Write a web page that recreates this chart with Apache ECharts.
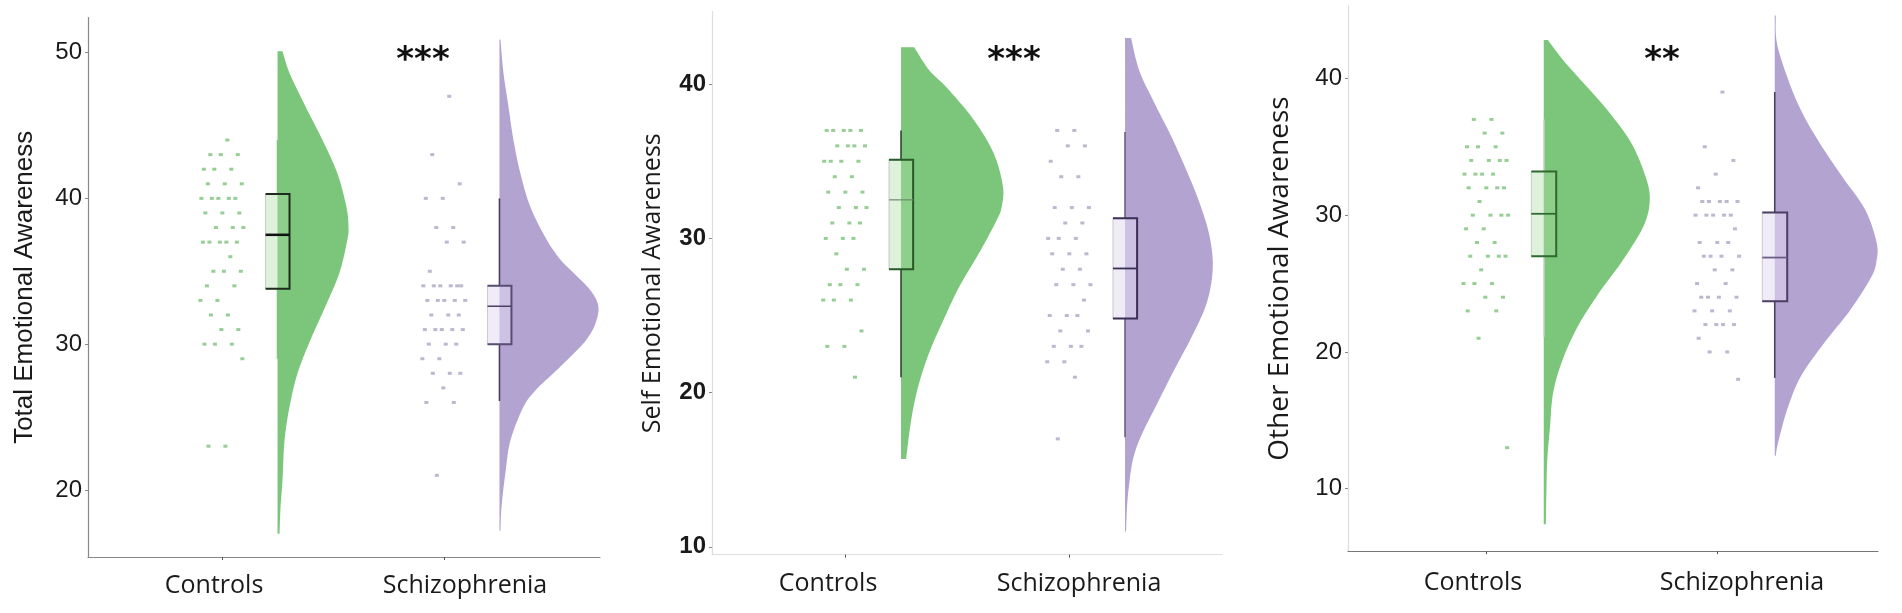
<!DOCTYPE html>
<html><head><meta charset="utf-8">
<script src="https://cdn.jsdelivr.net/npm/echarts@6/dist/echarts.min.js"></script>
<style>html,body{margin:0;padding:0;background:#fff}#c{width:1902px;height:613px}</style>
</head><body><div id="c"></div>
<script>
// ---------- data ----------
const groups = ['Controls', 'Schizophrenia'];
const yTitles = ['Total Emotional Awareness', 'Self Emotional Awareness', 'Other Emotional Awareness'];
const yTickValues = [[20, 30, 40, 50], [10, 20, 30, 40], [10, 20, 30, 40]];
const significance = ['***', '***', '**'];

// raw scores (jittered dots)
const totalControls = [44,43,43,43,42,42,42,41,41,41,40,40,40,40,40,39,39,39,38,38,38,37,37,37,37,37,36,35,35,35,34,34,33,33,32,32,31,31,30,30,30,29,23,23];
const totalSchizophrenia = [47,43,41,40,40,38,38,37,37,35,34,34,34,34,34,34,33,33,33,33,33,32,32,32,31,31,31,31,31,30,30,30,29,29,28,28,28,27,26,26,21];
const selfControls = [37,37,37,37,37,36,36,36,36,35,35,35,35,34,34,33,33,33,32,32,32,31,31,31,30,30,30,29,28,28,27,27,27,26,26,26,24,23,23,21];
const selfSchizophrenia = [37,37,36,36,35,34,34,32,32,32,31,31,30,30,30,29,29,29,28,28,27,27,27,26,25,25,25,24,24,23,23,23,22,22,21,17];
const otherControls = [37,37,36,36,35,35,35,34,34,34,34,33,33,33,33,32,32,32,32,31,30,30,30,30,29,29,28,28,27,27,27,27,26,25,25,25,24,24,23,23,21,13];
const otherSchizophrenia = [39,35,34,33,32,31,31,31,31,31,30,30,30,30,30,29,28,28,28,27,27,27,27,26,26,25,25,24,24,24,24,23,23,23,22,22,22,22,21,20,20,18];

// violin density profiles [score, relative density]
const totalControlsDensity = [[50.1,0.05],[48.6,0.12],[46.3,0.28],[44.0,0.45],[41.7,0.60],[39.4,0.69],[38.1,0.71],[37.2,0.70],[34.9,0.62],[32.6,0.48],[30.3,0.33],[28.0,0.20],[25.7,0.12],[23.4,0.07],[20.7,0.05],[18.8,0.03],[17.0,0.02]];
const totalSchizophreniaDensity = [[50.9,0.01],[48.6,0.04],[46.3,0.09],[44.0,0.14],[41.7,0.21],[39.4,0.31],[37.2,0.47],[35.8,0.61],[34.9,0.74],[33.7,0.91],[32.6,0.99],[31.4,0.96],[30.3,0.87],[29.2,0.72],[28.0,0.54],[26.9,0.37],[25.7,0.24],[23.4,0.11],[21.2,0.06],[18.8,0.02],[17.2,0.01]];
const selfControlsDensity = [[42.4,0.13],[40.9,0.28],[39.8,0.45],[37.7,0.72],[35.5,0.92],[33.4,1.01],[32.1,1.00],[31.2,0.95],[29.0,0.77],[26.9,0.58],[24.7,0.42],[22.6,0.28],[20.4,0.17],[18.2,0.10],[15.7,0.05]];
const selfSchizophreniaDensity = [[43.0,0.06],[40.9,0.14],[38.8,0.29],[36.6,0.46],[34.4,0.61],[32.3,0.74],[30.1,0.84],[28.0,0.87],[25.8,0.81],[23.6,0.66],[21.5,0.49],[19.3,0.32],[17.2,0.16],[15.7,0.08],[14.0,0.04],[12.6,0.02],[11.0,0.01]];
const otherControlsDensity = [[42.8,0.04],[41.4,0.18],[40.1,0.33],[37.7,0.61],[35.3,0.84],[32.8,0.98],[31.1,1.02],[29.2,0.96],[26.7,0.76],[24.3,0.53],[21.9,0.33],[19.4,0.18],[17.0,0.09],[14.5,0.06],[12.8,0.04],[11.4,0.03],[7.4,0.02]];
const otherSchizophreniaDensity = [[44.6,0.01],[42.6,0.02],[40.1,0.12],[37.7,0.25],[35.3,0.43],[32.8,0.65],[30.4,0.87],[28.0,0.98],[26.7,0.98],[25.5,0.93],[23.1,0.73],[20.6,0.47],[18.2,0.25],[15.8,0.12],[13.3,0.03],[12.4,0.01]];

// box stats [lower whisker, Q1, median, Q3, upper whisker]
const totalControlsBox = [29, 33.8, 37.5, 40.3, 44];
const totalSchizophreniaBox = [26.1, 30.0, 32.6, 34.0, 40.0];
const selfControlsBox = [21.0, 28.0, 32.5, 35.1, 37.0];
const selfSchizophreniaBox = [17.1, 24.8, 28.05, 31.3, 36.9];
const otherControlsBox = [21.1, 27.0, 30.1, 33.2, 37.0];
const otherSchizophreniaBox = [18.1, 23.7, 26.9, 30.2, 39.0];

// ---------- layout / style ----------
const GREEN = '#7BC67A', PURPLE = '#B3A3D0';
const VIOLIN_OFFSET = 0.25, VIOLIN_SCALE = 0.45, BOX_HALF = 0.054, JITTER = 0.1;

const panels = [
  { grid:{left:88, top:17.6, width:512, height:539.4}, x:[0.396, 2.703], y:[15.4, 52.4],
    axisColor:['#888','#888'], tickFont:{fontFamily:'Liberation Sans', fontSize:24, fontWeight:'normal'},
    nameFont:{fontFamily:'Liberation Sans', fontSize:26}, nameGap:50, labelMargin:16, labelShift:[-8, 21], sig:[423,61],
    ctrl:{dots:totalControls, dens:totalControlsDensity, box:totalControlsBox, whisker:GREEN, outline:'#1e2e1e', median:'#111', medW:2.5},
    schz:{dots:totalSchizophrenia, dens:totalSchizophreniaDensity, box:totalSchizophreniaBox, whisker:'#4b3f63', outline:'#5a4d75', median:'#4b3f63', medW:1.5} },
  { grid:{left:712, top:11.7, width:510, height:543}, x:[0.406, 2.683], y:[9.49, 44.7],
    axisColor:['#ddd','#ddd'], tickFont:{fontFamily:'Liberation Sans', fontSize:24, fontWeight:'bold'},
    nameFont:{fontFamily:'Open Sans', fontSize:25}, nameGap:47, labelMargin:17, labelShift:[-17, 10], sig:[1014,61],
    ctrl:{dots:selfControls, dens:selfControlsDensity, box:selfControlsBox, whisker:'#2d4a2d', outline:'#2a5a2a', median:'#6c8f6a', medW:1.2},
    schz:{dots:selfSchizophrenia, dens:selfSchizophreniaDensity, box:selfSchizophreniaBox, whisker:'#6a5d86', outline:'#3a2f55', median:'#3a2f55', medW:1.8} },
  { grid:{left:1348, top:5.9, width:530, height:545.3}, x:[0.4026, 2.697], y:[5.43, 45.3],
    axisColor:['#ddd','#777'], tickFont:{fontFamily:'Liberation Sans', fontSize:24, fontWeight:'normal'},
    nameFont:{fontFamily:'Open Sans', fontSize:28}, nameGap:54, labelMargin:19, labelShift:[-13, 25], sig:[1662,61],
    ctrl:{dots:otherControls, dens:otherControlsDensity, box:otherControlsBox, whisker:'#d4dcd4', outline:'#2f6a2f', median:'#2f6a2f', medW:1.8},
    schz:{dots:otherSchizophrenia, dens:otherSchizophreniaDensity, box:otherSchizophreniaBox, whisker:'#4b3f63', outline:'#4b3f63', median:'#6a5d86', medW:1.8} }
];

function catmullRom(pts, steps) {
  const out = [];
  for (let i = 0; i < pts.length - 1; i++) {
    const p0 = pts[Math.max(i - 1, 0)], p1 = pts[i], p2 = pts[i + 1], p3 = pts[Math.min(i + 2, pts.length - 1)];
    for (let s = 0; s < steps; s++) {
      const t = s / steps, t2 = t * t, t3 = t2 * t;
      const f = k => 0.5 * (2 * p1[k] + (-p0[k] + p2[k]) * t + (2 * p0[k] - 5 * p1[k] + 4 * p2[k] - p3[k]) * t2 + (-p0[k] + 3 * p1[k] - 3 * p2[k] + p3[k]) * t3);
      out.push([f(0), f(1)]);
    }
  }
  out.push(pts[pts.length - 1]);
  return out;
}

function violinSeries(gi, pos, profile, color) {
  return { type:'custom', xAxisIndex:gi, yAxisIndex:gi, silent:true, z:1, data:[[pos, profile[0][0]]],
    renderItem: (params, api) => {
      const base = pos + VIOLIN_OFFSET;
      const bx = api.coord([base, 0])[0];
      const pts = profile.map(([s, d]) => api.coord([base + d * VIOLIN_SCALE, s]));
      const curve = catmullRom(pts, 10).map(p => [Math.max(p[0], bx), p[1]]);
      const top = api.coord([base, profile[0][0]]);
      const bot = api.coord([base, profile[profile.length - 1][0]]);
      return { type:'polygon', shape:{ points:[top, ...curve, bot] }, style:{ fill:color } };
    } };
}

function boxSeries(gi, pos, g, fill) {
  return { type:'custom', xAxisIndex:gi, yAxisIndex:gi, silent:true, z:2, data:[[pos, g.box[2]]],
    renderItem: (params, api) => {
      const c = pos + VIOLIN_OFFSET;
      const [lo, q1, md, q3, hi] = g.box;
      const tl = api.coord([c - BOX_HALF, q3]), tr = api.coord([c + BOX_HALF, q3]);
      const bl = api.coord([c - BOX_HALF, q1]), br = api.coord([c + BOX_HALF, q1]);
      const ml = api.coord([c - BOX_HALF, md]), mr = api.coord([c + BOX_HALF, md]);
      const wt = api.coord([c, hi]), w3 = api.coord([c, q3]), w1 = api.coord([c, q1]), wb = api.coord([c, lo]);
      return { type:'group', children:[
        { type:'line', shape:{x1:wt[0], y1:wt[1], x2:w3[0], y2:w3[1]}, style:{stroke:g.whisker, lineWidth:1.6} },
        { type:'line', shape:{x1:w1[0], y1:w1[1], x2:wb[0], y2:wb[1]}, style:{stroke:g.whisker, lineWidth:1.6} },
        { type:'rect', shape:{x:tl[0], y:tl[1], width:br[0] - tl[0], height:br[1] - tl[1]}, style:{fill:fill, stroke:'rgba(80,80,80,0.25)', lineWidth:1} },
        { type:'polyline', shape:{points:[tl, tr, br, bl]}, style:{stroke:g.outline, lineWidth:2, fill:null} },
        { type:'line', shape:{x1:ml[0], y1:ml[1], x2:mr[0], y2:mr[1]}, style:{stroke:g.median, lineWidth:g.medW} }
      ] };
    } };
}

function jitter(i) { return (((i + 1) * 0.6180339887) % 1 - 0.5) * 2 * JITTER; }

function dotSeries(gi, pos, values, color) {
  return { type:'scatter', xAxisIndex:gi, yAxisIndex:gi, silent:true, z:3,
    symbol:'rect', symbolSize:[4, 3], itemStyle:{ color:color, opacity:0.65 },
    data: values.map((v, i) => [pos + jitter(i), v]) };
}

function shiftPad(d) { return d >= 0 ? [0, 0, 0, 2 * d] : [0, -2 * d, 0, 0]; }

const grid = [], xAxis = [], yAxis = [], series = [], graphic = [];
panels.forEach((p, gi) => {
  grid.push(p.grid);
  const labelStyle = { fontFamily:'Open Sans', fontSize:25, color:'#1a1a1a' };
  xAxis.push({ type:'value', gridIndex:gi, min:p.x[0], max:p.x[1], splitLine:{show:false},
    axisLine:{ lineStyle:{ color:p.axisColor[1], width:1.2 } },
    axisTick:{ customValues:[1, 2], length:3, lineStyle:{ color:'#555' } },
    axisLabel:{ customValues:[1, 2], margin:p.labelMargin, ...labelStyle,
      formatter: v => { const k = Math.round(v) - 1; return '{g' + k + '|' + groups[k] + '}'; },
      rich:{ g0:{ ...labelStyle, padding:shiftPad(p.labelShift[0]) }, g1:{ ...labelStyle, padding:shiftPad(p.labelShift[1]) } } } });
  yAxis.push({ type:'value', gridIndex:gi, min:p.y[0], max:p.y[1], splitLine:{show:false},
    axisLine:{ show:true, lineStyle:{ color:p.axisColor[0], width:1.2 } },
    axisTick:{ show:true, customValues:yTickValues[gi], length:3, lineStyle:{ color:'#888' } },
    axisLabel:{ customValues:yTickValues[gi], margin:6, color:'#1a1a1a', ...p.tickFont },
    name:yTitles[gi], nameLocation:'middle', nameGap:p.nameGap,
    nameTextStyle:{ color:'#1a1a1a', ...p.nameFont } });
  series.push(violinSeries(gi, 1, p.ctrl.dens, GREEN));
  series.push(violinSeries(gi, 2, p.schz.dens, PURPLE));
  series.push(boxSeries(gi, 1, p.ctrl, 'rgba(170,220,165,0.4)'));
  series.push(boxSeries(gi, 2, p.schz, 'rgba(225,220,242,0.55)'));
  series.push(dotSeries(gi, 1, p.ctrl.dots, '#5fb35c'));
  series.push(dotSeries(gi, 2, p.schz.dots, '#9a90b5'));
  graphic.push({ type:'text', x:p.sig[0], y:p.sig[1], z:10,
    style:{ text:significance[gi], fontSize:34, fontWeight:'bold', fontFamily:'DejaVu Sans', fill:'#111',
      textAlign:'center', textVerticalAlign:'middle' } });
});

const chart = echarts.init(document.getElementById('c'), null, { renderer:'canvas' });
chart.setOption({ animation:false, backgroundColor:'#fff', grid, xAxis, yAxis, series, graphic });
</script>
</body></html>
